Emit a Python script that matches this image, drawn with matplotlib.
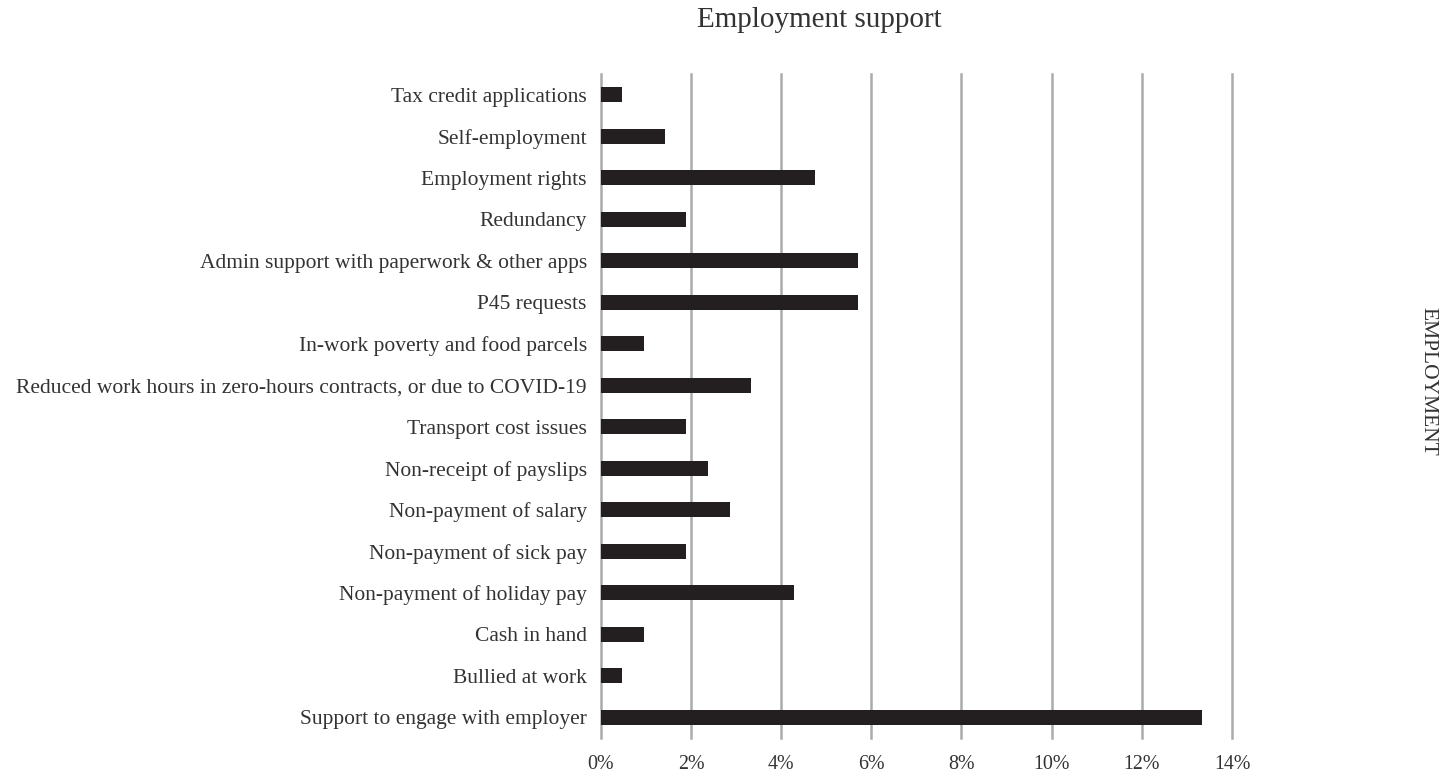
import matplotlib
matplotlib.use("Agg")
import matplotlib.pyplot as plt
from matplotlib.ticker import FuncFormatter, MultipleLocator

categories = [
    "Tax credit applications",
    "Self-employment",
    "Employment rights",
    "Redundancy",
    "Admin support with paperwork & other apps",
    "P45 requests",
    "In-work poverty and food parcels",
    "Reduced work hours in zero-hours contracts, or due to COVID-19",
    "Transport cost issues",
    "Non-receipt of payslips",
    "Non-payment of salary",
    "Non-payment of sick pay",
    "Non-payment of holiday pay",
    "Cash in hand",
    "Bullied at work",
    "Support to engage with employer",
]
shares = [0.48, 1.43, 4.76, 1.90, 5.71, 5.71, 0.95, 3.33,
          1.90, 2.38, 2.86, 1.90, 4.29, 0.95, 0.48, 13.33]

plt.rcParams['font.family'] = ['Liberation Serif', 'DejaVu Serif']
text_color = '#333333'

fig = plt.figure(figsize=(14.52, 7.74), dpi=100)
ax = fig.add_axes([600.7 / 1452, 1 - 738 / 774, (1232 - 600.7) / 1452, (738 - 74) / 774])

ypos = list(range(len(categories)))
ax.barh(ypos, shares, height=0.354, color='#231f20', zorder=3)
ax.set_ylim(len(categories) - 0.5, -0.5)
ax.set_yticks(ypos)
ax.set_yticklabels(categories, fontsize=15.5, color=text_color)

ax.set_xlim(0, 14)
ax.xaxis.set_major_locator(MultipleLocator(2))
ax.xaxis.set_major_formatter(FuncFormatter(lambda v, p: f"{v:.0f}%"))
ax.tick_params(axis='x', labelsize=14.4, labelcolor=text_color, length=0, pad=12)
ax.tick_params(axis='y', length=0, pad=10)
ax.grid(axis='x', color='#a9abae', linewidth=1.8, zorder=0)
for line in ax.get_xgridlines():
    line.set_clip_on(False)
for s in ax.spines.values():
    s.set_visible(False)

fig.text(819 / 1452, 1 - 20 / 774, "Employment support", ha='center', va='center',
         fontsize=21, color=text_color)
fig.text(1428 / 1452, 1 - 381 / 774, "EMPLOYMENT", ha='center', va='center',
         rotation=-90, fontsize=15.5, color=text_color)

fig.savefig("out.png", dpi=100, facecolor='white')
